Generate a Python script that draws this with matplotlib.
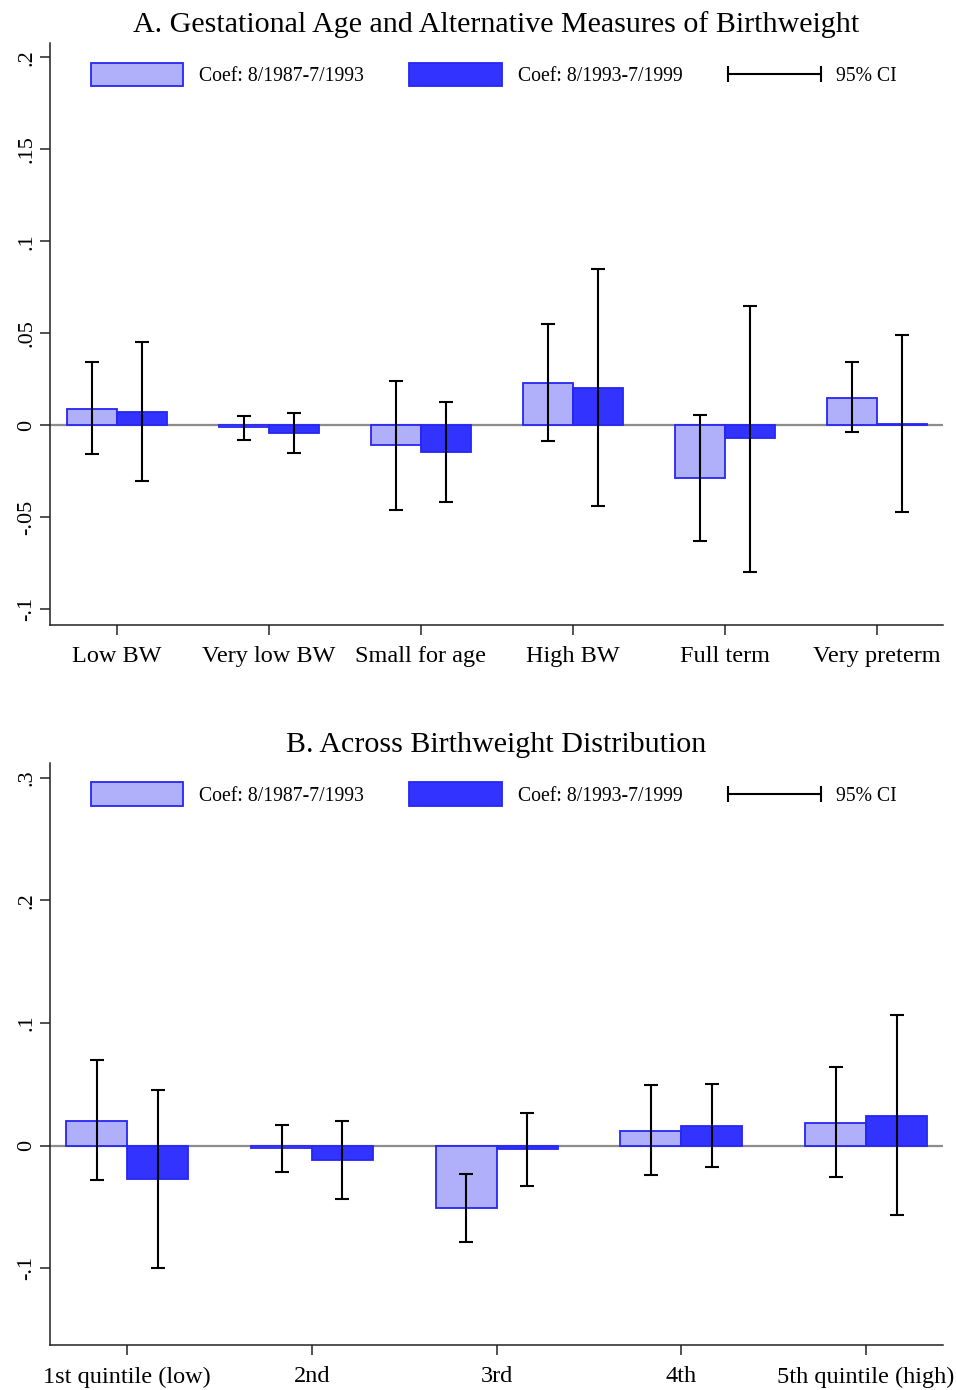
import numpy as np
import matplotlib
matplotlib.use('Agg')
import matplotlib.pyplot as plt
from matplotlib.lines import Line2D
from matplotlib.legend_handler import HandlerBase
from matplotlib.container import ErrorbarContainer
from matplotlib.ticker import FixedLocator, FuncFormatter

plt.rcParams['font.family'] = ['Liberation Serif', 'DejaVu Serif']

# Panel A: gestational age / alternative birthweight measures
CATS_A = ['Low BW', 'Very low BW', 'Small for age', 'High BW', 'Full term', 'Very preterm']
COEF_A_EARLY = [0.0091, -0.0011, -0.0109, 0.0230, -0.0286, 0.0151]
LO_A_EARLY = [-0.0154, -0.0078, -0.0462, -0.0083, -0.0630, -0.0038]
HI_A_EARLY = [0.0342, 0.0049, 0.0239, 0.0551, 0.0054, 0.0346]
COEF_A_LATE = [0.0074, -0.0040, -0.0143, 0.0203, -0.0069, 0.0005]
LO_A_LATE = [-0.0304, -0.0150, -0.0416, -0.0440, -0.0799, -0.0473]
HI_A_LATE = [0.0455, 0.0065, 0.0127, 0.0852, 0.0650, 0.0489]

# Panel B: birthweight quintiles
CATS_B = ['1st quintile (low)', '2nd', '3rd', '4th', '5th quintile (high)']
COEF_B_EARLY = [0.0204, -0.0019, -0.0505, 0.0122, 0.0188]
LO_B_EARLY = [-0.0282, -0.0217, -0.0787, -0.0241, -0.0258]
HI_B_EARLY = [0.0698, 0.0169, -0.0228, 0.0497, 0.0641]
COEF_B_LATE = [-0.0269, -0.0114, -0.0027, 0.0161, 0.0245]
LO_B_LATE = [-0.0997, -0.0434, -0.0326, -0.0171, -0.0567]
HI_B_LATE = [0.0454, 0.0201, 0.0264, 0.0505, 0.1068]

LABEL_EARLY = 'Coef: 8/1987-7/1993'
LABEL_LATE = 'Coef: 8/1993-7/1999'

COLORS = {
    'early': '#B0B0FA',
    'late': '#3333FF',
    'edge': '#2626F5',
    'zero': '#8C8C8C',
    'ci': 'black',
    'axis': '#222222',
}

BAR_W = 0.33


class HandlerCI(HandlerBase):
    """Horizontal line with end caps for the CI legend entry."""
    def create_artists(self, legend, orig_handle, xdescent, ydescent,
                       width, height, fontsize, trans):
        y = height / 2 - ydescent
        line = Line2D([-xdescent, width - xdescent], [y, y], color=COLORS['ci'],
                      lw=1.5, marker='|', markersize=11, markeredgewidth=1.5,
                      transform=trans)
        return [line]


def _fmt(v, pos):
    s = '%g' % v
    return s.replace('0.', '.') if s not in ('0', '-0') else '0'


def draw_panel(ax, title, cats, early, lo_e, hi_e, late, lo_l, hi_l,
               yticks, ylim, xpad):
    x = np.arange(len(cats))
    ax.axhline(0, color=COLORS['zero'], lw=1.6, zorder=1)
    ax.bar(x - BAR_W / 2, early, width=BAR_W, color=COLORS['early'],
           edgecolor=COLORS['edge'], linewidth=1.3, zorder=2, label=LABEL_EARLY)
    ax.bar(x + BAR_W / 2, late, width=BAR_W, color=COLORS['late'],
           edgecolor=COLORS['edge'], linewidth=1.3, zorder=2, label=LABEL_LATE)

    e = np.array(early)
    l = np.array(late)
    ax.errorbar(x - BAR_W / 2, e, yerr=[e - np.array(lo_e), np.array(hi_e) - e],
                fmt='none', ecolor=COLORS['ci'], elinewidth=1.5, capsize=5,
                capthick=1.5, zorder=3, label='95% CI')
    ax.errorbar(x + BAR_W / 2, l, yerr=[l - np.array(lo_l), np.array(hi_l) - l],
                fmt='none', ecolor=COLORS['ci'], elinewidth=1.5, capsize=5,
                capthick=1.5, zorder=3)

    ax.set_xlim(-xpad[0], len(cats) - 1 + xpad[1])
    ax.set_ylim(*ylim)
    ax.set_xticks(x)
    ax.set_xticklabels(cats, fontsize=17.5)
    ax.yaxis.set_major_locator(FixedLocator(yticks))
    ax.yaxis.set_major_formatter(FuncFormatter(_fmt))
    ax.tick_params(axis='y', labelsize=16, labelrotation=90, length=7, width=1.1,
                   color=COLORS['axis'], pad=3)
    for lab in ax.get_yticklabels():
        lab.set_va('center')
    ax.tick_params(axis='x', length=7, width=1.1, color=COLORS['axis'], pad=8.5)

    ax.spines[['top', 'right']].set_visible(False)
    ax.spines[['left', 'bottom']].set_color(COLORS['axis'])
    ax.spines[['left', 'bottom']].set_linewidth(1.1)

    ax.set_title(title, fontsize=21.6, pad=8)
    ax.legend(ncol=3, loc='upper left', bbox_to_anchor=(0.0456, 0.966),
              frameon=False, fontsize=14.2, borderpad=0, borderaxespad=0,
              handlelength=4.7, handleheight=1.45, handletextpad=0.8,
              columnspacing=2.3,
              handler_map={ErrorbarContainer: HandlerCI()})


fig = plt.figure(figsize=(9.56, 13.9), dpi=100)
ax_a = fig.add_axes([0.0523, 0.5504, 0.9338, 0.4187])
ax_b = fig.add_axes([0.0523, 0.0324, 0.9338, 0.4189])

draw_panel(ax_a, 'A. Gestational Age and Alternative Measures of Birthweight',
           CATS_A, COEF_A_EARLY, LO_A_EARLY, HI_A_EARLY,
           COEF_A_LATE, LO_A_LATE, HI_A_LATE,
           [-0.1, -0.05, 0, 0.05, 0.1, 0.15, 0.2], (-0.1085, 0.2078),
           (0.439, 0.434))
draw_panel(ax_b, 'B. Across Birthweight Distribution',
           CATS_B, COEF_B_EARLY, LO_B_EARLY, HI_B_EARLY,
           COEF_B_LATE, LO_B_LATE, HI_B_LATE,
           [-0.1, 0, 0.1, 0.2, 0.3], (-0.1625, 0.3122),
           (0.4185, 0.415))

fig.savefig('out.png', dpi=100)
